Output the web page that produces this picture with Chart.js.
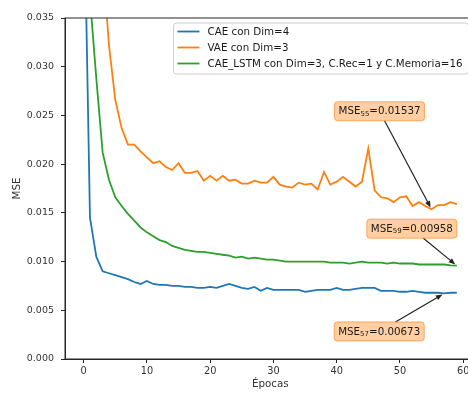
<!DOCTYPE html>
<html lang="es">
<head>
  <meta charset="UTF-8">
  <title>MSE por épocas</title>
  <script src="https://cdn.jsdelivr.net/npm/chart.js@4"></script>
  <style>
    html, body { margin: 0; padding: 0; background: #fff; overflow: hidden; }
    #wrap { width: 480px; height: 394px; }
  </style>
</head>
<body>
  <div id="wrap"><canvas id="grafico" width="480" height="394"></canvas></div>

  <script>
    // datos
    const epocas = [0, 1, 2, 3, 4, 5, 6, 7, 8, 9, 10, 11, 12, 13, 14, 15, 16, 17, 18, 19,
      20, 21, 22, 23, 24, 25, 26, 27, 28, 29, 30, 31, 32, 33, 34, 35, 36, 37, 38, 39,
      40, 41, 42, 43, 44, 45, 46, 47, 48, 49, 50, 51, 52, 53, 54, 55, 56, 57, 58, 59];

    const mseCAE = [0.050, 0.0145, 0.0105, 0.0090, 0.0088, 0.0086, 0.0084, 0.0082, 0.0079, 0.0077,
      0.0080, 0.0077, 0.0076, 0.0076, 0.0075, 0.0075, 0.0074, 0.0074, 0.0073, 0.0073,
      0.0074, 0.0073, 0.0075, 0.0077, 0.0075, 0.0073, 0.0072, 0.0074, 0.0070, 0.0073,
      0.0071, 0.0071, 0.0071, 0.0071, 0.0071, 0.0069, 0.0070, 0.0071, 0.0071, 0.0071,
      0.0073, 0.0071, 0.0071, 0.0072, 0.0073, 0.0073, 0.0073, 0.0070, 0.0070, 0.0070,
      0.0069, 0.0069, 0.0070, 0.0069, 0.0068, 0.0068, 0.0068, 0.00673, 0.0068, 0.0068];

    const mseVAE = [0.090, 0.070, 0.052, 0.041, 0.0322, 0.0266, 0.0237, 0.0220, 0.0220, 0.0213,
      0.0207, 0.0201, 0.0203, 0.0197, 0.0194, 0.0201, 0.0191, 0.0191, 0.0193, 0.0183,
      0.0188, 0.0183, 0.0188, 0.0183, 0.0184, 0.0180, 0.0180, 0.0183, 0.0181, 0.0181,
      0.0187, 0.0179, 0.0177, 0.0176, 0.0181, 0.0179, 0.0180, 0.0174, 0.0192, 0.0179,
      0.0182, 0.0187, 0.0182, 0.0177, 0.0182, 0.0216, 0.0173, 0.0166, 0.0165, 0.0161,
      0.0166, 0.0167, 0.0157, 0.0161, 0.0157, 0.01537, 0.0158, 0.0158, 0.0161, 0.0159];

    const mseLSTM = [0.070, 0.037, 0.0288, 0.0212, 0.0184, 0.0166, 0.0157, 0.0149, 0.0142, 0.0135,
      0.0130, 0.0126, 0.0122, 0.0120, 0.0116, 0.0114, 0.0112, 0.0111, 0.0110, 0.0110,
      0.0109, 0.0108, 0.0107, 0.0106, 0.0104, 0.0105, 0.0103, 0.0104, 0.0103, 0.0102,
      0.0102, 0.0101, 0.0100, 0.0100, 0.0100, 0.0100, 0.0100, 0.0100, 0.0100, 0.0099,
      0.0099, 0.0099, 0.0098, 0.0099, 0.0100, 0.0099, 0.0099, 0.0099, 0.0098, 0.0099,
      0.0098, 0.0098, 0.0098, 0.0097, 0.0097, 0.0097, 0.0097, 0.0097, 0.0096, 0.00958];

    const nombres = ['CAE con Dim=4', 'VAE con Dim=3', 'CAE_LSTM con Dim=3, C.Rec=1 y C.Memoria=16'];
    const colores = ['#1f77b4', '#ff7f0e', '#2ca02c'];

    const ticksX = [0, 10, 20, 30, 40, 50, 60];
    const ticksY = [0, 0.005, 0.010, 0.015, 0.020, 0.025, 0.030, 0.035];

    // anotaciones: serie, epoca
    const notasSerie = [1, 2, 0];
    const notasEpoca = [55, 59, 57];
    // desplazamiento de la caja respecto al punto (px)
    const notasOffset = [[-52, -98], [-45, -37], [-65, 38]];

    const FUENTE = '"DejaVu Sans", sans-serif';
    const series = [mseCAE, mseVAE, mseLSTM];

    function cajaRedonda(ctx, x, y, w, h, r) {
      ctx.beginPath();
      ctx.moveTo(x + r, y);
      ctx.lineTo(x + w - r, y);
      ctx.quadraticCurveTo(x + w, y, x + w, y + r);
      ctx.lineTo(x + w, y + h - r);
      ctx.quadraticCurveTo(x + w, y + h, x + w - r, y + h);
      ctx.lineTo(x + r, y + h);
      ctx.quadraticCurveTo(x, y + h, x, y + h - r);
      ctx.lineTo(x, y + r);
      ctx.quadraticCurveTo(x, y, x + r, y);
      ctx.closePath();
    }

    const extras = {
      id: 'extras',
      afterDatasetsDraw(chart) {
        const ctx = chart.ctx;
        const a = chart.chartArea;
        const sx = chart.scales.x, sy = chart.scales.y;

        // marco superior / derecho
        ctx.save();
        ctx.strokeStyle = '#262626';
        ctx.lineWidth = 1;
        ctx.strokeRect(a.left, a.top, a.right - a.left, a.bottom - a.top);
        ctx.restore();

        // anotaciones
        ctx.save();
        notasSerie.forEach((s, i) => {
          const ep = notasEpoca[i];
          const val = series[s][epocas.indexOf(ep)];
          const px = sx.getPixelForValue(ep);
          const py = sy.getPixelForValue(val);
          const cx = px + notasOffset[i][0];
          const cy = py + notasOffset[i][1];

          const t1 = 'MSE', t2 = String(ep), t3 = '=' + val.toFixed(5);
          ctx.font = '10.3px ' + FUENTE;
          const w1 = ctx.measureText(t1).width, w3 = ctx.measureText(t3).width;
          ctx.font = '7px ' + FUENTE;
          const w2 = ctx.measureText(t2).width;
          const tw = w1 + w2 + w3;
          const bw = tw + 8, bh = 19;
          const bx = cx - bw / 2, by = cy - bh / 2;

          // flecha
          const dx = px - cx, dy = py - cy;
          const len = Math.hypot(dx, dy);
          const tt = Math.min((bw / 2) / Math.abs(dx || 1e-6), (bh / 2) / Math.abs(dy || 1e-6));
          const x0 = cx + dx * tt, y0 = cy + dy * tt;
          const ux = dx / len, uy = dy / len;
          const x1 = px - ux * 2, y1 = py - uy * 2;
          ctx.strokeStyle = '#222';
          ctx.fillStyle = '#222';
          ctx.lineWidth = 1.2;
          ctx.beginPath();
          ctx.moveTo(x0, y0);
          ctx.lineTo(x1 - ux * 4, y1 - uy * 4);
          ctx.stroke();
          ctx.beginPath();
          ctx.moveTo(x1, y1);
          ctx.lineTo(x1 - ux * 6.5 - uy * 2.7, y1 - uy * 6.5 + ux * 2.7);
          ctx.lineTo(x1 - ux * 6.5 + uy * 2.7, y1 - uy * 6.5 - ux * 2.7);
          ctx.closePath();
          ctx.fill();

          // caja
          ctx.lineWidth = 1;
          cajaRedonda(ctx, bx, by, bw, bh, 3);
          ctx.fillStyle = 'rgba(255,127,14,0.38)';
          ctx.fill();
          ctx.strokeStyle = 'rgba(255,127,14,0.6)';
          ctx.stroke();

          ctx.fillStyle = '#1a1a1a';
          ctx.textBaseline = 'middle';
          ctx.textAlign = 'left';
          let tx = cx - tw / 2;
          ctx.font = '10.3px ' + FUENTE;
          ctx.fillText(t1, tx, cy + 0.5);
          tx += w1;
          ctx.font = '7px ' + FUENTE;
          ctx.fillText(t2, tx, cy + 2.5);
          tx += w2;
          ctx.font = '10.3px ' + FUENTE;
          ctx.fillText(t3, tx, cy + 0.5);
        });
        ctx.restore();

        // leyenda
        ctx.save();
        ctx.font = '10.3px ' + FUENTE;
        const anchoTxt = Math.max(...nombres.map(n => ctx.measureText(n).width));
        const lw = 4 + 22 + 8 + anchoTxt + 6;
        const lh = 51;
        const lx = a.right - 7 - lw, ly = a.top + 5;
        cajaRedonda(ctx, lx, ly, lw, lh, 3);
        ctx.fillStyle = 'rgba(255,255,255,0.8)';
        ctx.fill();
        ctx.strokeStyle = '#cccccc';
        ctx.lineWidth = 1;
        ctx.stroke();
        nombres.forEach((n, i) => {
          const yy = ly + 8.5 + i * 16;
          ctx.strokeStyle = colores[i];
          ctx.lineWidth = 1.8;
          ctx.beginPath();
          ctx.moveTo(lx + 4, yy);
          ctx.lineTo(lx + 26, yy);
          ctx.stroke();
          ctx.fillStyle = '#1a1a1a';
          ctx.textBaseline = 'middle';
          ctx.fillText(n, lx + 34, yy + 0.5);
        });
        ctx.restore();
      }
    };

    new Chart(document.getElementById('grafico'), {
      type: 'line',
      data: {
        datasets: series.map((s, i) => ({
          label: nombres[i],
          data: epocas.map((e, j) => ({ x: e, y: s[j] })),
          borderColor: colores[i],
          borderWidth: 1.8,
          pointRadius: 0,
          tension: 0,
          fill: false
        }))
      },
      options: {
        responsive: false,
        animation: false,
        devicePixelRatio: 1,
        layout: { padding: { left: 0, top: 18, right: 4.5, bottom: 0 } },
        plugins: { legend: { display: false }, tooltip: { enabled: false } },
        scales: {
          x: {
            type: 'linear',
            min: -2.95,
            max: 61.95,
            afterBuildTicks: s => { s.ticks = ticksX.map(v => ({ value: v })); },
            afterFit: s => { s.height = 35; },
            grid: { display: true, drawOnChartArea: false, drawTicks: true, tickLength: 4, tickColor: '#262626' },
            border: { display: true, color: '#262626', width: 1 },
            ticks: { font: { family: FUENTE, size: 9.8 }, color: '#333', padding: 3, maxRotation: 0 },
            title: { display: true, text: 'Épocas', font: { family: FUENTE, size: 10.3 }, color: '#333', padding: { top: 0, bottom: 3 } }
          },
          y: {
            min: 0,
            max: 0.035,
            afterBuildTicks: s => { s.ticks = ticksY.map(v => ({ value: v })); },
            afterFit: s => { s.width = 65; },
            grid: { display: true, drawOnChartArea: false, drawTicks: true, tickLength: 4, tickColor: '#262626' },
            border: { display: true, color: '#262626', width: 1 },
            ticks: { font: { family: FUENTE, size: 9.5 }, color: '#333', padding: 7, callback: v => v.toFixed(3) },
            title: { display: true, text: 'MSE', font: { family: FUENTE, size: 10.3 }, color: '#333', padding: { top: 11, bottom: 0 } }
          }
        }
      },
      plugins: [extras]
    });
  </script>
</body>
</html>
